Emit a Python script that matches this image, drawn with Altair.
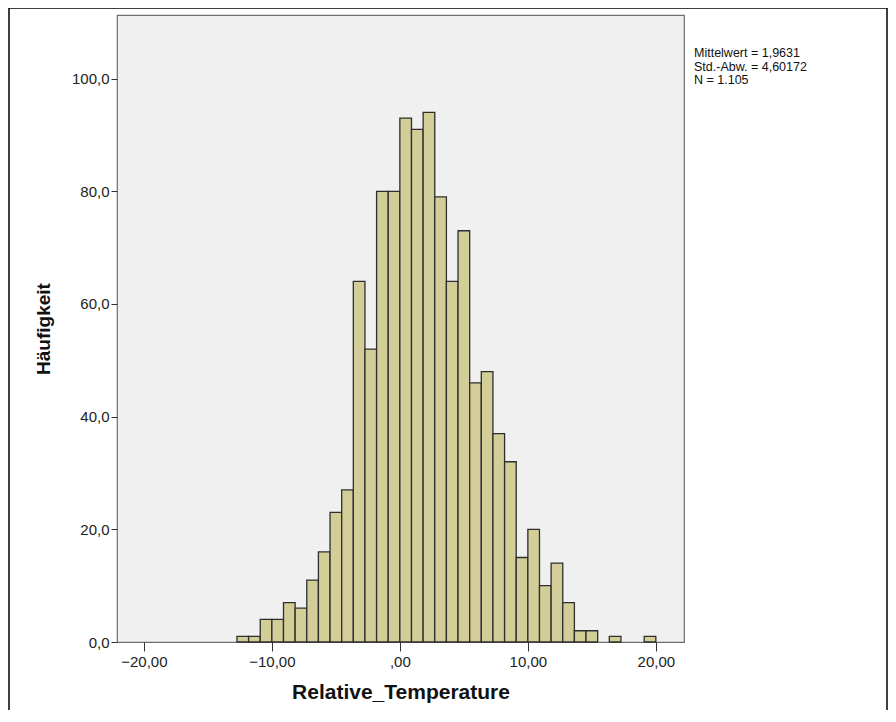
import altair as alt
import pandas as pd

# Histogram data (bin width 10/11, first bin index -14)
bin_width = 10 / 11
first_bin = -14
counts = [1, 1, 4, 4, 7, 6, 11, 16, 23, 27, 64, 52, 80, 80, 93, 91, 94, 79,
          64, 73, 46, 48, 37, 32, 15, 20, 10, 14, 7, 2, 2, 0, 1, 0, 0, 1]

x_ticks = [-20, -10, 0, 10, 20]
y_ticks = [0, 20, 40, 60, 80, 100]
stats_lines = ["Mittelwert = 1,9631", "Std.-Abw. = 4,60172", "N = 1.105"]

rows = []
for i, c in enumerate(counts):
    k = first_bin + i
    if c > 0:
        rows.append({"start": k * bin_width, "end": (k + 1) * bin_width, "count": c})
df = pd.DataFrame(rows)

W, H = 567, 627

xscale = alt.Scale(domain=[-22.1, 22.2], nice=False, zero=False)
yscale = alt.Scale(domain=[0, 111.3], nice=False)

bars = alt.Chart(df).mark_rect(
    fill="#d3ce97", stroke="#2e2e2e", strokeWidth=1.3
).encode(
    x=alt.X("start:Q", scale=xscale,
            axis=alt.Axis(values=x_ticks, title="Relative_Temperature",
                          labelExpr="datum.value == 0 ? ',00' : replace(format(datum.value, '.2f'), '.', ',')",
                          domain=False, grid=False, tickSize=9, tickColor="#333",
                          labelColor="#222", labelFontSize=15, labelPadding=3,
                          labelFont="Liberation Sans",
                          titleFont="Liberation Sans", titleFontSize=21, titleFontWeight="bold",
                          titleColor="#111", titlePadding=12)),
    x2="end:Q",
    y=alt.Y("count:Q", scale=yscale,
            axis=alt.Axis(values=y_ticks, title="Häufigkeit",
                          labelExpr="replace(format(datum.value, '.1f'), '.', ',')",
                          domain=False, grid=False, tickSize=6, tickColor="#333",
                          labelColor="#222", labelFontSize=15, labelPadding=2,
                          labelFont="Liberation Sans",
                          titleFont="Liberation Sans", titleFontSize=19, titleFontWeight="bold",
                          titleColor="#111", titlePadding=18)),
    y2=alt.datum(0),
)

stats = alt.Chart(pd.DataFrame({"t": ["\n".join(stats_lines)]})).mark_text(
    align="left", baseline="middle", fontSize=12.5, lineHeight=13.5, lineBreak="\n",
    font="Liberation Sans", color="#111"
).encode(
    text="t:N",
    x=alt.value(577),
    y=alt.value(38),
)

frame = alt.Chart(pd.DataFrame({"a": [0]})).mark_rect(
    fill=None, stroke="#000", strokeWidth=1.5
).encode(
    x=alt.value(-108), x2=alt.value(770),
    y=alt.value(-7), y2=alt.value(730),
)

chart = alt.layer(frame, bars, stats).properties(
    width=W, height=H,
    autosize=alt.AutoSizeParams(type="none"),
    padding={"left": 109, "top": 7, "right": 204, "bottom": 68},
    background="white",
).configure_view(
    fill="#f0f0f0", stroke="#6e6e6e", strokeWidth=1.2
)

chart.save("out.html", embed_options={"renderer": "svg", "actions": False})
